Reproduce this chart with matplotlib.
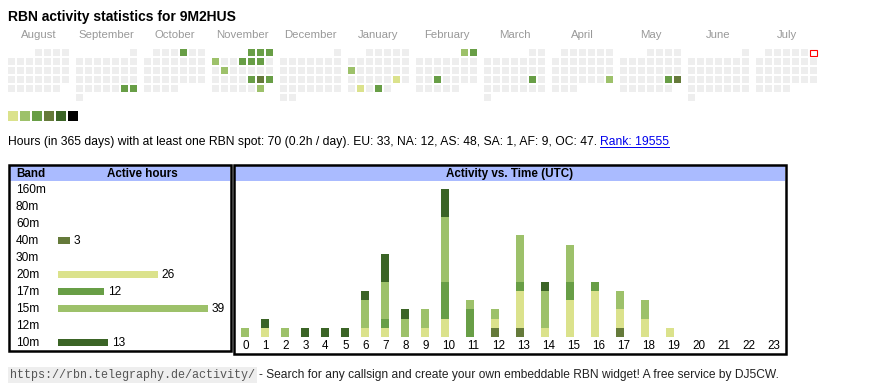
import datetime as dt
import matplotlib
matplotlib.use("Agg")
import matplotlib.pyplot as plt
import numpy as np
from matplotlib.patches import Rectangle
from matplotlib import transforms

plt.rcParams['font.family'] = ['Liberation Sans', 'DejaVu Sans']

W, H = 870, 390

title = "RBN activity statistics for 9M2HUS"
month_names = ["August", "September", "October", "November", "December", "January",
               "February", "March", "April", "May", "June", "July"]
month_years = [2024, 2024, 2024, 2024, 2024, 2025, 2025, 2025, 2025, 2025, 2025, 2025]
month_nums = [8, 9, 10, 11, 12, 1, 2, 3, 4, 5, 6, 7]

active_days = ["2024-09-28", "2024-09-29", "2024-10-04", "2024-11-01", "2024-11-02",
               "2024-11-03", "2024-11-04", "2024-11-07", "2024-11-08", "2024-11-09",
               "2024-11-12", "2024-11-22", "2024-11-23", "2024-11-24", "2024-11-30",
               "2025-01-13", "2025-01-25", "2025-01-28", "2025-01-30", "2025-02-01",
               "2025-02-02", "2025-02-19", "2025-03-22", "2025-04-27", "2025-05-24",
               "2025-05-25"]
active_levels = [3, 3, 3, 3, 3, 3, 2, 3, 3, 3, 2, 3, 4, 3, 2,
                 2, 1, 1, 3, 2, 3, 3, 3, 2, 3, 4]
today = "2025-07-06"

level_colors = ["#eeeeee", "#dbe28c", "#9dc16a", "#689e46", "#657a3a", "#3b6426", "#000000"]

stats_text = ("Hours (in 365 days) with at least one RBN spot: 70 (0.2h / day). "
              "EU: 33, NA: 12, AS: 48, SA: 1, AF: 9, OC: 47.")
rank_text = "Rank: 19555"

bands = ["160m", "80m", "60m", "40m", "30m", "20m", "17m", "15m", "12m", "10m"]
band_hours = [0, 0, 0, 3, 0, 26, 12, 39, 0, 13]
band_colors = {"40m": "#657a3a", "20m": "#dbe28c", "17m": "#689e46",
               "15m": "#9dc16a", "10m": "#3b6426"}

hours = list(range(24))
# stacked per band, bottom to top: 40m, 20m, 17m, 15m, 10m
act_40m = [0, 0, 0, 0, 0, 0, 0, 0, 0, 0, 0, 0, 1, 1, 0, 0, 0, 1, 0, 0, 0, 0, 0, 0]
act_20m = [0, 1, 0, 0, 0, 0, 1, 1, 0, 1, 2, 0, 1, 4, 1, 4, 5, 2, 2, 1, 0, 0, 0, 0]
act_17m = [0, 0, 0, 0, 0, 0, 0, 1, 0, 0, 4, 3, 0, 1, 0, 2, 1, 0, 0, 0, 0, 0, 0, 0]
act_15m = [1, 0, 1, 0, 0, 0, 3, 4, 2, 2, 7, 1, 1, 5, 4, 4, 0, 2, 2, 0, 0, 0, 0, 0]
act_10m = [0, 1, 0, 1, 1, 1, 1, 3, 1, 0, 3, 0, 0, 0, 1, 0, 0, 0, 0, 0, 0, 0, 0, 0]

footer_url = "https://rbn.telegraphy.de/activity/"
footer_text = "- Search for any callsign and create your own embeddable RBN widget! A free service by DJ5CW."

FS = 8.6

# ---- figure in pixel units ----
fig = plt.figure(figsize=(W / 100, H / 100), dpi=100)
bg = fig.add_axes([0, 0, 1, 1])
bg.set_xlim(0, W)
bg.set_ylim(H, 0)
bg.axis('off')


def px_axes(x, y, w, h):
    a = fig.add_axes([x / W, 1 - (y + h) / H, w / W, h / H])
    a.patch.set_visible(False)
    a.axis('off')
    return a


bg.text(8, 20.5, title, fontsize=10.0, fontweight='bold', va='baseline')

# calendar
day_level = dict(zip(active_days, active_levels))
for m, (yr, mo, name) in enumerate(zip(month_years, month_nums, month_names)):
    left = 8 + 68 * m
    first = dt.date(yr, mo, 1)
    nxt = dt.date(yr + (mo == 12), mo % 12 + 1, 1)
    off = first.weekday()
    for d in range((nxt - first).days):
        day = first + dt.timedelta(days=d)
        i = off + d
        x, y = left + 9 * (i % 7), 49 + 9 * (i // 7)
        key = day.isoformat()
        if key == today:
            bg.add_patch(Rectangle((x + 0.5, y + 0.5), 7, 6.5, facecolor='white',
                                   edgecolor='red', lw=0.8))
        else:
            bg.add_patch(Rectangle((x, y), 7, 7, facecolor=level_colors[day_level.get(key, 0)],
                                   edgecolor='none'))
    bg.text(left + 30.5, 38.5, name, ha='center', va='baseline', fontsize=8.2, color='#999999')

for i, c in enumerate(level_colors[1:]):
    bg.add_patch(Rectangle((8 + 12 * i, 111), 10, 10, facecolor=c, edgecolor='none'))

st = bg.text(8, 145, stats_text, fontsize=8.7, va='baseline')

# boxes + headers
bg.add_patch(Rectangle((10, 166), 220.5, 15, facecolor='#aabbff', edgecolor='none'))
bg.add_patch(Rectangle((235, 166), 550, 15, facecolor='#aabbff', edgecolor='none'))
bg.add_patch(Rectangle((9.2, 164.5), 222.3, 186.5, fill=False, edgecolor='black', lw=1.8))
bg.add_patch(Rectangle((234, 164.5), 552, 189.5, fill=False, edgecolor='black', lw=1.8))
bg.text(16, 177, "Band", fontsize=8.4, fontweight='bold', va='baseline')
bg.text(142, 177, "Active hours", fontsize=8.4, fontweight='bold', va='baseline', ha='center')
bg.text(510, 177, "Activity vs. Time (UTC)", fontsize=8.4, fontweight='bold',
        va='baseline', ha='center')

# band table
px_per_hour = 3.84
axb = px_axes(58, 180.5, 170, 170)
axb.set_xlim(0, 170 / px_per_hour)
axb.set_ylim(len(bands) - 0.5, -0.5)
ypos = np.arange(len(bands))
axb.barh(ypos, band_hours, height=7 / 17, left=0,
         color=[band_colors.get(b, 'none') for b in bands])
lab_tr = transforms.blended_transform_factory(bg.transData, axb.transData)
for i, (b, v) in enumerate(zip(bands, band_hours)):
    axb.text(16, i + 4 / 17, b, transform=lab_tr, fontsize=FS, va='baseline')
    if v > 0:
        axb.text(v + 1.0, i + 4 / 17, str(v), fontsize=FS, va='baseline', clip_on=False)

# activity vs time
px_per_unit = 9.25
axa = px_axes(237, 181, 549, 156)
axa.set_xlim(0, 549)
axa.set_ylim(0, 156 / px_per_unit)
widths = [20 if h < 10 else 25 for h in hours]
lefts = np.concatenate([[0], np.cumsum(widths)[:-1]]) + 4
bottom = np.zeros(24)
for vals, b in [(act_40m, "40m"), (act_20m, "20m"), (act_17m, "17m"),
                (act_15m, "15m"), (act_10m, "10m")]:
    v = np.array(vals)
    axa.bar(lefts, v, width=8, bottom=bottom, align='edge', color=band_colors[b])
    bottom += v
for h, x in zip(hours, lefts):
    axa.text(x + 1.2, -12 / px_per_unit, str(h), fontsize=8.4, va='baseline', clip_on=False)

# footer
fu = bg.text(10, 378, footer_url, fontsize=8.5, family='Liberation Mono', color='#555555',
             va='baseline', bbox=dict(facecolor='#eeeeee', edgecolor='none', pad=1.5))

fig.canvas.draw()
r = fig.canvas.get_renderer()
inv = bg.transData.inverted()
x_end = inv.transform((st.get_window_extent(r).x1, 0))[0]
rk = bg.text(x_end + 3, 145, rank_text, fontsize=8.7, va='baseline', color='#0000ee')
fig.canvas.draw()
rb = rk.get_window_extent(r)
rx0, rx1 = inv.transform((rb.x0, 0))[0], inv.transform((rb.x1, 0))[0]
bg.plot([rx0, rx1], [146.5, 146.5], color='#0000ee', lw=0.7)

fx = inv.transform((fu.get_window_extent(r).x1, 0))[0]
bg.text(fx + 4, 378, footer_text, fontsize=8.65, va='baseline', color='#222222')

fig.savefig("out.png", dpi=100)
